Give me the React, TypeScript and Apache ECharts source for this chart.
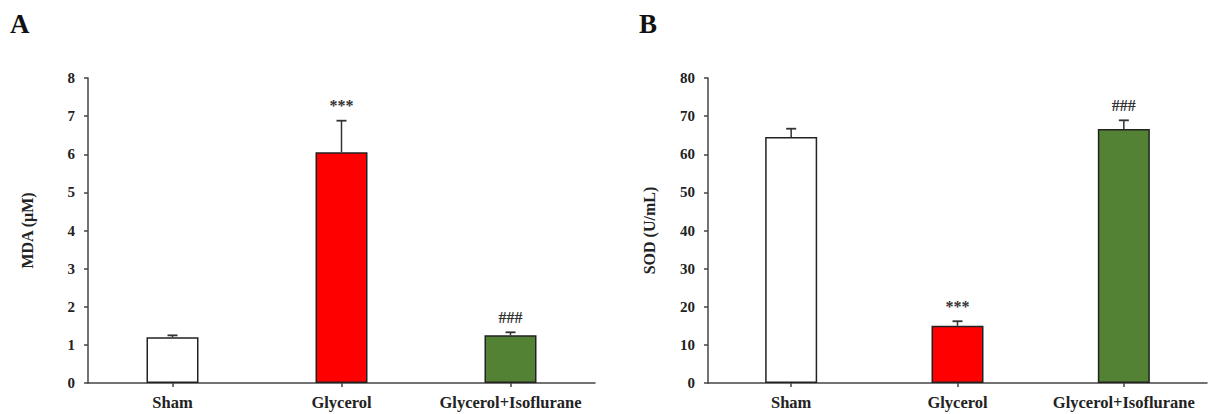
import React, { useEffect, useRef } from "react";
import * as echarts from "echarts";

const categories = ["Sham", "Glycerol", "Glycerol+Isoflurane"];
const barColors = ["#ffffff", "#ff0000", "#548235"];

const mdaValues = [1.2, 6.05, 1.25];
const mdaErrors = [0.05, 0.83, 0.08];
const mdaMarks = ["", "***", "###"];

const sodValues = [64.5, 15.0, 66.6];
const sodErrors = [2.2, 1.2, 2.3];
const sodMarks = ["", "***", "###"];

const mdaTicks = { min: 0, max: 8, interval: 1 };
const sodTicks = { min: 0, max: 80, interval: 10 };

const FONT = "'Liberation Serif', 'Times New Roman', serif";

function errorSeries(idx: number, values: number[], errs: number[], marks: string[]) {
  return {
    type: "custom",
    xAxisIndex: idx,
    yAxisIndex: idx,
    z: 5,
    data: values.map((v, i) => [i, v, errs[i]]),
    encode: { x: 0, y: 1 },
    renderItem: (params: any, api: any) => {
      const i = api.value(0);
      const v = api.value(1);
      const e = api.value(2);
      const mark = marks[i];
      const p0 = api.coord([i, v]);
      const p1 = api.coord([i, v + e]);
      const children: any[] = [
        {
          type: "line",
          shape: { x1: p0[0], y1: p0[1], x2: p1[0], y2: p1[1] },
          style: { stroke: "#333", lineWidth: 1.5 },
        },
        {
          type: "line",
          shape: { x1: p1[0] - 5, y1: p1[1], x2: p1[0] + 5, y2: p1[1] },
          style: { stroke: "#333", lineWidth: 1.8 },
        },
      ];
      if (mark) {
        children.push({
          type: "text",
          x: p1[0],
          y: p1[1] - 7,
          style: {
            text: mark,
            fill: "#333",
            font: `bold 16px ${FONT}`,
            textAlign: "center",
            textVerticalAlign: "bottom",
          },
        });
      }
      return { type: "group", children };
    },
  };
}

function barSeries(idx: number, values: number[]) {
  return {
    type: "bar",
    xAxisIndex: idx,
    yAxisIndex: idx,
    barWidth: 52,
    data: values.map((v, i) => ({
      value: v,
      itemStyle: { color: barColors[i], borderColor: "#222", borderWidth: 1.5 },
    })),
  };
}

export default function App() {
  const ref = useRef<HTMLDivElement>(null);
  useEffect(() => {
    if (!ref.current) return;
    const chart = echarts.init(ref.current, undefined, { renderer: "svg" });
    const axisLine = { show: true, lineStyle: { color: "#444", width: 1.5 } };
    const labelStyle = { color: "#222", fontFamily: FONT, fontWeight: "bold" as const, fontSize: 15 };
    const xAxis = (gi: number) => ({
      type: "category",
      gridIndex: gi,
      data: categories,
      axisLine,
      axisTick: { show: true, alignWithLabel: true, length: 4, lineStyle: { color: "#444", width: 1.5 } },
      axisLabel: { ...labelStyle, fontSize: 16.5, margin: 11, interval: 0, hideOverlap: false },
    });
    const yAxis = (gi: number, t: any, name: string, gap: number) => ({
      type: "value",
      gridIndex: gi,
      min: t.min,
      max: t.max,
      interval: t.interval,
      axisLine,
      axisTick: { show: true, length: 4, lineStyle: { color: "#444", width: 1.5 } },
      splitLine: { show: false },
      axisLabel: { ...labelStyle, margin: 13 },
      name,
      nameLocation: "middle",
      nameGap: gap,
      nameTextStyle: { ...labelStyle, fontSize: 16 },
    });
    chart.setOption({
      animation: false,
      backgroundColor: "#ffffff",
      grid: [
        { left: 88, top: 78, width: 507, height: 305 },
        { left: 708, top: 78, width: 499, height: 305 },
      ],
      xAxis: [xAxis(0), xAxis(1)],
      yAxis: [yAxis(0, mdaTicks, "MDA (μM)", 53), yAxis(1, sodTicks, "SOD (U/mL)", 51)],
      series: [
        barSeries(0, mdaValues),
        errorSeries(0, mdaValues, mdaErrors, mdaMarks),
        barSeries(1, sodValues),
        errorSeries(1, sodValues, sodErrors, sodMarks),
      ],
      graphic: [
        {
          type: "text",
          left: 10,
          top: 10,
          style: { text: "A", fill: "#111", font: `bold 27px ${FONT}` },
        },
        {
          type: "text",
          left: 639,
          top: 10,
          style: { text: "B", fill: "#111", font: `bold 27px ${FONT}` },
        },
      ],
    });
    return () => chart.dispose();
  }, []);
  return (
    <div
      ref={ref}
      style={{ position: "absolute", left: 0, top: 0, width: 1208, height: 414 }}
    />
  );
}
